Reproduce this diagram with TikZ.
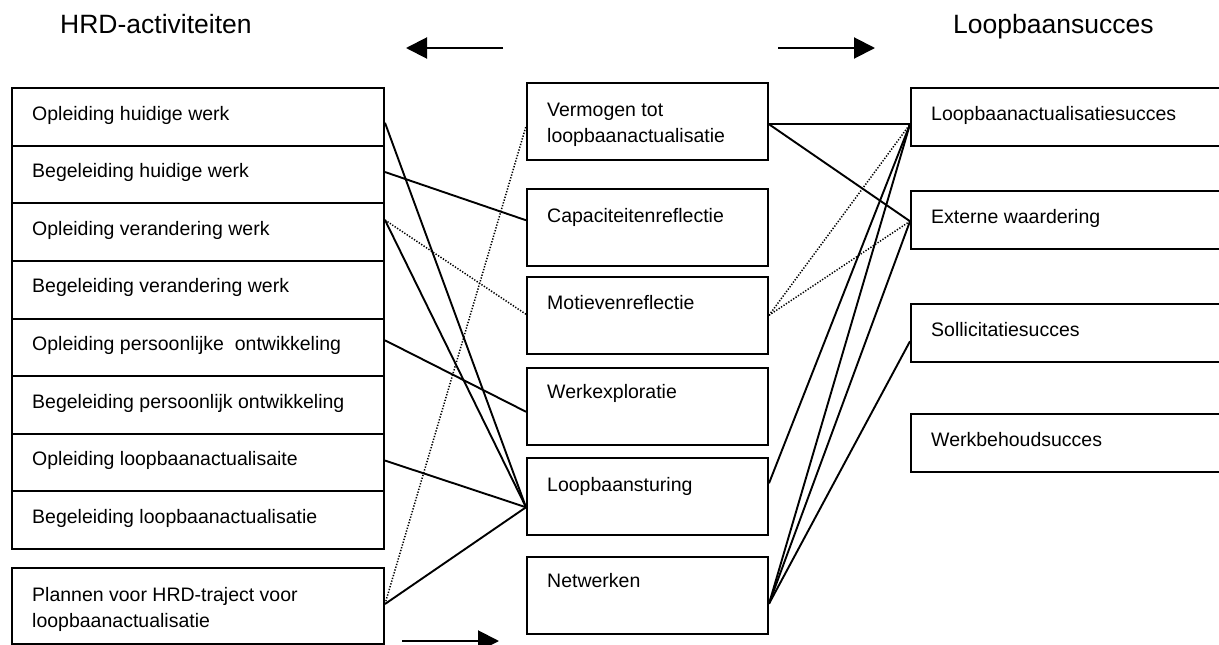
\documentclass[tikz,border=0pt]{standalone}
\usepackage{fontspec}
\setmainfont{Liberation Sans}
\usetikzlibrary{arrows.meta}

\tikzset{
  box/.style={draw, line width=2pt, rectangle, inner sep=0pt, anchor=north west},
  leftrow/.style={box, minimum width=372pt, minimum height=57.625pt},
  midbox/.style={box, minimum width=241pt, minimum height=76.5pt},
  rightbox/.style={box, minimum width=330pt, minimum height=57.5pt},
  boxtext/.style={anchor=base west, inner sep=0pt, font=\fontsize{19.5}{26}\selectfont, align=left},
  title/.style={anchor=base west, inner sep=0pt, font=\fontsize{26.5}{30}\selectfont},
  link/.style={line width=1.9pt},
  weaklink/.style={line width=1.5pt, dash pattern=on 1.3pt off 1.6pt},
  flow/.style={line width=2pt, -{Triangle[length=21pt,width=21pt]}}
}

\begin{document}
\begin{tikzpicture}[x=1pt, y=-1pt]
\useasboundingbox (0,0) rectangle (1219,645);
\clip (0,0) rectangle (1219,645);

% column headings
\node[title] (hrdtitle) at (60,33) {HRD-activiteiten};
\node[title] (succtitle) at (953,33) {Loopbaansucces};

% direction arrows
\coordinate (a1s) at (503,48); \coordinate (a1e) at (406,48);
\coordinate (a2s) at (778,48); \coordinate (a2e) at (875,48);
\coordinate (a3s) at (402,641); \coordinate (a3e) at (499,641);
\draw[flow] (a1s) -- (a1e);
\draw[flow] (a2s) -- (a2e);
\draw[flow] (a3s) -- (a3e);

% HRD activities (stacked rows)
\foreach \i/\txt in {0/Opleiding huidige werk,
                     1/Begeleiding huidige werk,
                     2/Opleiding verandering werk,
                     3/Begeleiding verandering werk,
                     4/Opleiding persoonlijke\ \ ontwikkeling,
                     5/Begeleiding persoonlijk ontwikkeling,
                     6/Opleiding loopbaanactualisaite,
                     7/Begeleiding loopbaanactualisatie}{
  \node[leftrow] (r\i) at (11,87+57.625*\i) {};
  \node[boxtext] (t\i) at ([shift={(21pt,-33pt)}]r\i.north west) {\txt};
}
\node[box, minimum width=372pt, minimum height=76pt] (plan) at (11,567) {};
% two-line texts: the base anchor sits on the last line
\node[boxtext] (tplan) at ([shift={(21pt,-60pt)}]plan.north west)
  {Plannen voor HRD-traject voor\\loopbaanactualisatie};

% competencies
\node[midbox] (verm) at (526,82) {};
\node[boxtext] (tverm) at ([shift={(21pt,-60pt)}]verm.north west)
  {Vermogen tot\\loopbaanactualisatie};
\node[midbox] (capa) at (526,188) {};
\node[boxtext] (tcapa) at ([shift={(21pt,-34pt)}]capa.north west) {Capaciteitenreflectie};
\node[midbox] (moti) at (526,276) {};
\node[boxtext] (tmoti) at ([shift={(21pt,-33pt)}]moti.north west) {Motievenreflectie};
\node[midbox] (werk) at (526,367) {};
\node[boxtext] (twerk) at ([shift={(21pt,-31pt)}]werk.north west) {Werkexploratie};
\node[midbox] (stur) at (526,457) {};
\node[boxtext] (tstur) at ([shift={(21pt,-34pt)}]stur.north west) {Loopbaansturing};
\node[midbox] (netw) at (526,556) {};
\node[boxtext] (tnetw) at ([shift={(21pt,-31pt)}]netw.north west) {Netwerken};

% career success
\node[rightbox] (lbas) at (910,87) {};
\node[boxtext] (tlbas) at ([shift={(21pt,-33pt)}]lbas.north west) {Loopbaanactualisatiesucces};
\node[rightbox] (extw) at (910,190) {};
\node[boxtext] (textw) at ([shift={(21pt,-33pt)}]extw.north west) {Externe waardering};
\node[rightbox] (soll) at (910,303) {};
\node[boxtext] (tsoll) at ([shift={(21pt,-33pt)}]soll.north west) {Sollicitatiesucces};
\node[rightbox] (wbeh) at (910,413) {};
\node[boxtext] (twbeh) at ([shift={(21pt,-33pt)}]wbeh.north west) {Werkbehoudsucces};

% HRD activities -> competencies
\draw[link] ([yshift=-6pt]r0.east) -- ([yshift=-11pt]stur.west);
\draw[link] ([yshift=2.4pt]r1.east) -- ([yshift=7pt]capa.west);
\draw[link] ([yshift=12pt]r2.east) -- ([yshift=-11pt]stur.west);
\draw[weaklink] ([yshift=12pt]r2.east) -- ([yshift=1pt]moti.west);
\draw[link] ([yshift=7pt]r4.east) -- ([yshift=-5.5pt]werk.west);
\draw[link] ([yshift=2pt]r6.east) -- ([yshift=-11pt]stur.west);
\draw[link] ([yshift=2pt]plan.east) -- ([yshift=-11pt]stur.west);
\draw[weaklink] ([yshift=2pt]plan.east) -- ([yshift=-5pt]verm.west);

% competencies -> career success
\draw[link] ([yshift=-3pt]verm.east) -- ([yshift=-7.5pt]lbas.west);
\draw[link] ([yshift=-3pt]verm.east) -- ([yshift=-1.5pt]extw.west);
\draw[weaklink] (moti.east) -- ([yshift=-7.5pt]lbas.west);
\draw[weaklink] (moti.east) -- ([yshift=-1.5pt]extw.west);
\draw[link] ([yshift=13pt]stur.east) -- ([yshift=-7.5pt]lbas.west);
\draw[link] ([yshift=-8.5pt]netw.east) -- ([yshift=-7.5pt]lbas.west);
\draw[link] ([yshift=-8.5pt]netw.east) -- ([yshift=-1.5pt]extw.west);
\draw[link] ([yshift=-8.5pt]netw.east) -- ([yshift=-8.5pt]soll.west);
\end{tikzpicture}
\end{document}
